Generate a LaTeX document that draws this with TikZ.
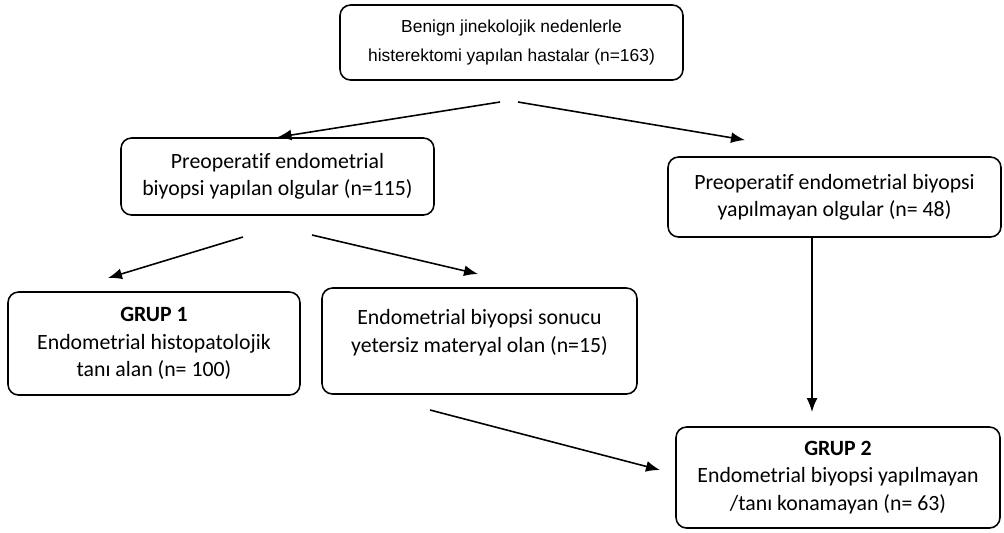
\documentclass[tikz,border=0pt]{standalone}
\usepackage{fontspec}
\setmainfont[Ligatures=NoCommon]{Carlito}
\newfontfamily\arialfont{Liberation Sans}
\usepackage{tikz}
\usetikzlibrary{arrows.meta,positioning}

\begin{document}
\begin{tikzpicture}[
  box/.style={
    draw,
    rounded corners=6pt,
    fill=white,
    align=center,
    line width=0.9pt,
    inner sep=2pt
  },
  flow/.style={-{Latex[length=2.8mm,width=2.2mm]}, line width=0.9pt},
  font=\fontsize{12.4}{15.5}\selectfont
]
\useasboundingbox (0,0) rectangle (20.08,-10.64);

\node[box,minimum width=6.86cm,minimum height=1.5cm,
  font=\arialfont\fontsize{9.9}{17}\selectfont] (all) at (10.23,-0.85)
  {Benign jinekolojik nedenlerle\\histerektomi yapılan hastalar (n=163)};
\node[box,minimum width=6.26cm,minimum height=1.54cm] (bx) at (5.55,-3.53)
  {Preoperatif endometrial\\biyopsi yapılan olgular (n=115)};
\node[box,minimum width=6.66cm,minimum height=1.6cm] (nobx) at (16.69,-3.94)
  {Preoperatif endometrial biyopsi\\yapılmayan olgular (n= 48)};
\node[box,minimum width=5.84cm,minimum height=2.06cm] (grup1) at (3.08,-6.87)
  {\textbf{GRUP 1}\\Endometrial histopatolojik\\tanı alan (n= 100)};
\node[box,minimum width=6.3cm,minimum height=2.12cm] (yetersiz) at (9.59,-6.82)
  {Endometrial biyopsi sonucu\\yetersiz materyal olan (n=15)\\[-4pt]};
\node[box,minimum width=6.48cm,minimum height=2.02cm] (grup2) at (16.76,-9.55)
  {\textbf{GRUP 2}\\Endometrial biyopsi yapılmayan\\/tanı konamayan (n= 63)};

% free ends of the connectors
\coordinate (allL) at (10.0,-2.04);
\coordinate (allR) at (10.36,-2.04);
\coordinate (nobxIn) at (14.9,-2.8);
\coordinate (bxL) at (4.86,-4.74);
\coordinate (bxR) at (6.24,-4.70);
\coordinate (grup1In) at (2.16,-5.56);
\coordinate (yetIn) at (9.56,-5.48);
\coordinate (yetOut) at (8.6,-8.2);
\coordinate (grup2In) at (13.2,-9.4);
\coordinate (grup2Top) at (16.24,-8.24);

\draw[flow] (allL) -- (bx.north);
\draw[flow] (allR) -- (nobxIn);
\draw[flow] (bxL) -- (grup1In);
\draw[flow] (bxR) -- (yetIn);
\draw[flow] (yetOut) -- (grup2In);
\draw[flow] (nobx.south -| grup2Top) -- (grup2Top);
\end{tikzpicture}
\end{document}
